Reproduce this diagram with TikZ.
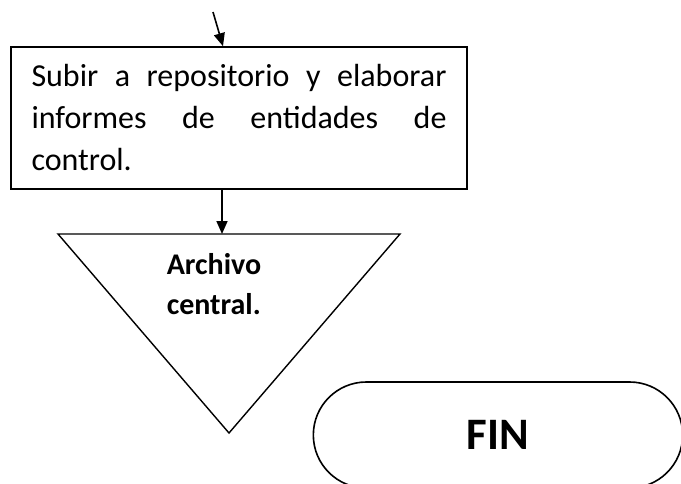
\documentclass[tikz,border=0pt]{standalone}
\usepackage{fontspec}
\setmainfont{Carlito}
\usetikzlibrary{arrows.meta,shapes.misc}

\begin{document}
\begin{tikzpicture}[x=1pt,y=-1pt,
  caja/.style={draw,line width=1.6pt,minimum width=456pt,minimum height=142pt,
    text width=415pt,align=justify,inner sep=0pt,font=\fontsize{32}{42}\selectfont},
  flecha/.style={line width=1.6pt,-{Triangle[length=13pt,width=11pt]}},
  fin/.style={draw,line width=1.6pt,rounded rectangle,minimum width=376pt,
    minimum height=106pt,font=\bfseries\fontsize{45}{54}\selectfont}]
  \clip (0,0) rectangle (681,483);

  \coordinate (entrada) at (213,12);
  \node[caja] (subir) at (239,118) {Subir a repositorio y elaborar\linebreak
    informes de entidades de\linebreak control.};

  % triangulo de archivo
  \coordinate (t1) at (58,234);
  \coordinate (t2) at (400,234);
  \coordinate (t3) at (229,433);
  \coordinate (tarriba) at (222,234);
  \draw[line width=1.4pt,line join=miter] (t1) -- (t2) -- (t3) -- cycle;
  \node[font=\bfseries\fontsize{30}{40}\selectfont,align=left,inner sep=0pt] (archivo)
    at (214,284) {Archivo\\central.};

  \node[fin] (final) at (498,435) {FIN};

  \draw[flecha] (entrada) -- ([xshift=-16pt]subir.north);
  \draw[flecha] ([xshift=-17pt]subir.south) -- (tarriba);
\end{tikzpicture}
\end{document}
